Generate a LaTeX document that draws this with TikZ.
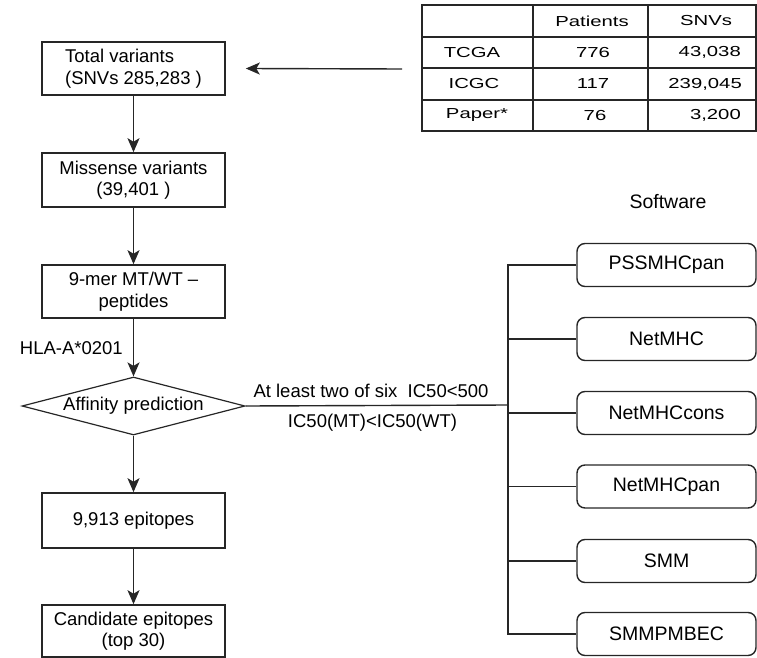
\documentclass[tikz,border=0pt]{standalone}
\usepackage{fontspec}
\usepackage{graphicx}
\setmainfont{Liberation Sans}
\usetikzlibrary{shapes.geometric,arrows.meta}
\begin{document}
\begin{tikzpicture}[x=1pt,y=-1pt,
  ln/.style={line width=1.4pt, draw=black!85},
  box/.style={draw=black!85, line width=1.6pt, minimum width=183pt, minimum height=53pt, inner sep=0pt, align=center, font=\fontsize{18.5}{21.5}\selectfont},
  sw/.style={draw=black!85, line width=1.4pt, rounded corners=8pt, minimum width=179pt, minimum height=43pt, inner sep=0pt, font=\fontsize{19.5}{22}\selectfont},
  arr/.style={ln, -{Stealth[length=14pt,width=12pt,inset=3.5pt]}},
  lbl/.style={font=\fontsize{18.5}{21}\selectfont, inner sep=0pt},
  tb/.style={font=\fontsize{14.5}{16}\selectfont, inner sep=0pt}
]
\useasboundingbox (0,0) rectangle (757,658);

% left flow
\node[box, align=left] (total) at (133.5,68.5) {Total variants\\(SNVs 285,283 )};
\node[box, minimum height=54pt] (mis) at (133.5,180) {Missense variants\\(39,401 )};
\node[box] (mer) at (133.5,291.5) {9-mer MT/WT –\\peptides};
\node[diamond, draw=black!85, line width=1.2pt, minimum width=223pt, minimum height=58pt, inner sep=0pt, aspect=3.85, font=\fontsize{18.5}{21}\selectfont] (aff) at (133.5,406) {Affinity prediction};
\node[box, minimum height=55pt] (epi) at (133.5,520.5) {9,913 epitopes};
\node[box, minimum height=52pt] (cand) at (133.5,631) {Candidate epitopes\\(top 30)};

\draw[arr] (total.south) -- (mis.north);
\draw[arr] (mis.south) -- (mer.north);
\draw[arr] (mer.south) -- (aff.north);
\draw[arr] (aff.south) -- (epi.north);
\draw[arr] (epi.south) -- (cand.north);

\node[lbl, anchor=east] (hla) at (123,348) {HLA-A*0201};

% table
\draw[line width=1.6pt, draw=black!85] (422,5) rectangle (756,131);
\draw[line width=1.2pt, draw=black!85] (422,37) -- (756,37) (422,68) -- (756,68) (422,100) -- (756,100)
  (533,5) -- (533,131) (648,5) -- (648,131);
\node[tb] (hp) at (592,21) {\scalebox{1.4}[1]{Patients}};
\node[tb] (hs) at (706,21) {\scalebox{1.4}[1]{SNVs}};
\node[tb] (r1) at (472,52.5) {\scalebox{1.4}[1]{TCGA}};
\node[tb] (r2) at (474,84) {\scalebox{1.4}[1]{ICGC}};
\node[tb] (r3) at (477,115.5) {\scalebox{1.4}[1]{Paper*}};
\node[tb] (p1) at (593,52.5) {\scalebox{1.4}[1]{776}};
\node[tb] (p2) at (593,84) {\scalebox{1.4}[1]{117}};
\node[tb] (p3) at (595,115.5) {\scalebox{1.4}[1]{76}};
\node[tb, anchor=east] (n1) at (741,52.5) {\scalebox{1.4}[1]{43,038}};
\node[tb, anchor=east] (n2) at (742,84) {\scalebox{1.4}[1]{239,045}};
\node[tb, anchor=east] (n3) at (741,115.5) {\scalebox{1.4}[1]{3,200}};

\coordinate (src) at (402,69);
\draw[arr] (src) -- ([xshift=20pt]total.east);

% software
\node[lbl, font=\fontsize{19.5}{22}\selectfont] (swl) at (668,202) {Software};
\node[sw] (s1) at (666.5,265) {PSSMHCpan};
\node[sw] (s2) at (666.5,339) {NetMHC};
\node[sw] (s3) at (666.5,413) {NetMHCcons};
\node[sw] (s4) at (666.5,486.5) {NetMHCpan};
\node[sw] (s5) at (666.5,561) {SMM};
\node[sw] (s6) at (666.5,634) {SMMPMBEC};

\coordinate (jn) at (508,405);
\draw[ln] (aff.east) -- (jn);
\draw[ln] (s1.west) -- (s1.west -| jn) -- (s6.west -| jn) -- (s6.west);
\foreach \s in {s2,s3,s4,s5} \draw[ln] (\s.west) -- (\s.west -| jn);

\node[lbl] (t1) at (371,391) {At least two of six\ \ IC50<500};
\node[lbl] (t2) at (372.5,423) {IC50(MT)<IC50(WT)};
\end{tikzpicture}
\end{document}
